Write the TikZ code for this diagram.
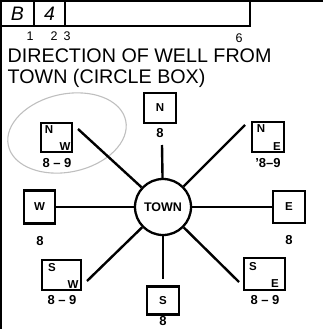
\documentclass[tikz,border=0pt]{standalone}
\usepackage{fontspec}
\setmainfont{Liberation Sans}
\begin{document}
\begin{tikzpicture}[x=1pt,y=-1pt,
  frame/.style={line width=1.8pt},
  cell/.style={draw,line width=1.8pt,minimum height=25pt,inner sep=0pt,font=\fontsize{19.5}{20}\selectfont\itshape},
  wbox/.style={draw,line width=2.1pt,inner sep=0pt},
  lett/.style={inner sep=0pt,font=\fontsize{11.5}{12}\selectfont\bfseries},
  num/.style={inner sep=0pt,font=\fontsize{13}{14}\selectfont\bfseries},
  tick/.style={inner sep=0pt,font=\fontsize{12.5}{13}\selectfont},
  title/.style={inner sep=0pt,anchor=base west,font=\fontsize{19.7}{22}\selectfont},
  spoke/.style={line width=2.4pt}]
\useasboundingbox (0,0) rectangle (323,329);
% frame
\coordinate (tl) at (0,1);
\coordinate (tr) at (323,1);
\coordinate (lt) at (1,0);
\coordinate (lb) at (1,329);
\draw[frame] (tl) -- (tr);
\draw[frame] (lt) -- (lb);
% header cells
\node[cell,minimum width=33pt] (cb) at (17.5,13.5) {B};
\node[cell,minimum width=31pt] (c4) at (49.5,13.5) {4};
\node[cell,minimum width=185pt] (c6) at (157.5,13.5) {};
\node[tick,anchor=base] (n1) at (30,41) {1};
\node[tick,anchor=base] (n2) at (54,41) {2};
\node[tick,anchor=base] (n3) at (67,41) {3};
\node[tick,anchor=base] (n6) at (239,42) {6};
% title
\node[title] (t1) at (7.5,63) {DIRECTION OF WELL FROM};
\node[title] (t2) at (7.5,83) {TOWN (CIRCLE BOX)};
% gray circle mark
\draw[gray!50,line width=1.1pt,rotate around={12:(67,133)}] (67,133) ellipse (60 and 39);
% town
\node[draw,circle,line width=2.3pt,minimum size=56pt,inner sep=0pt,font=\fontsize{12.5}{14}\selectfont\bfseries] (town) at (163,207) {TOWN};
% boxes
\node[wbox,minimum width=32pt,minimum height=30pt] (bn) at (160,108) {};
\node[wbox,minimum width=31pt,minimum height=29pt] (bnw) at (56.5,137.5) {};
\node[wbox,minimum width=32pt,minimum height=30pt] (bne) at (268,137) {};
\node[wbox,minimum width=31pt,minimum height=33pt] (bw) at (39.5,207) {};
\node[wbox,minimum width=32pt,minimum height=32pt] (be) at (289,207) {};
\node[wbox,minimum width=39pt,minimum height=30pt] (bsw) at (61.5,275) {};
\node[wbox,minimum width=32pt,minimum height=28pt] (bs) at (163,300.5) {};
\node[wbox,minimum width=41pt,minimum height=32pt] (bse) at (264.5,274) {};
% letters in boxes
\node[lett] (ln) at (bn) {N};
\node[lett] (lw) at (bw) {W};
\node[lett] (le) at (be) {E};
\node[lett] (ls) at (bs) {S};
\node[lett] (lnw1) at ([shift={(9,8)}]bnw.north west) {N};
\node[lett] (lnw2) at ([shift={(-8,-7)}]bnw.south east) {W};
\node[lett] (lne1) at ([shift={(10,8)}]bne.north west) {N};
\node[lett] (lne2) at ([shift={(-8,-7)}]bne.south east) {E};
\node[lett] (lsw1) at ([shift={(11,9)}]bsw.north west) {S};
\node[lett] (lsw2) at ([shift={(-9,-7)}]bsw.south east) {W};
\node[lett] (lse1) at ([shift={(10,10)}]bse.north west) {S};
\node[lett] (lse2) at ([shift={(-11,-8)}]bse.south east) {E};
% values below boxes
\node[num] (vn) at (160,133) {8};
\node[num] (vnw) at (57,163) {8 -- 9};
\node[num] (vne) at (268,163) {'8--9};
\node[num] (vw) at (40,241) {8};
\node[num] (ve) at (289,240) {8};
\node[num] (vsw) at (62,300) {8 -- 9};
\node[num] (vse) at (265,300) {8 -- 9};
\node[num] (vs) at (163,321.5) {8};
% spoke ends
\coordinate (en) at (162,145);
\coordinate (enw) at (78,129);
\coordinate (ene) at (245,125);
\coordinate (esw) at (87,281);
\coordinate (es) at (163,279);
\coordinate (ese) at (239,282);
\draw[spoke] (town) -- (en);
\draw[spoke] (town) -- (enw);
\draw[spoke] (town) -- (ene);
\draw[spoke] (town) -- (esw);
\draw[spoke] (town) -- (es);
\draw[spoke] (town) -- (ese);
\draw[spoke] (town) -- (bw);
\draw[spoke] (town) -- (be);
\end{tikzpicture}
\end{document}
